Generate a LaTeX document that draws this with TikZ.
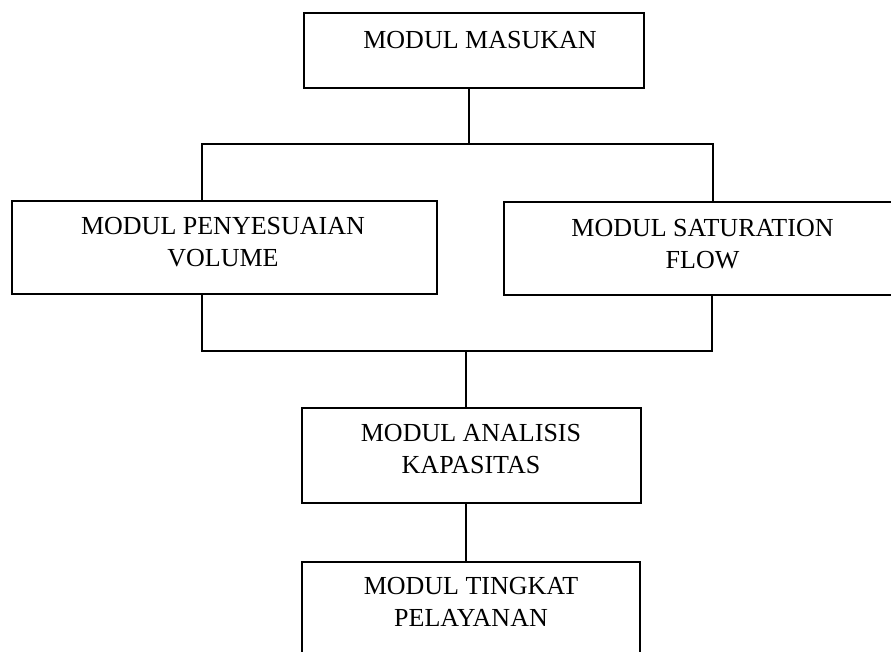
\documentclass[tikz,border=0pt]{standalone}
\usepackage{fontspec}
\setmainfont{Liberation Serif}
\begin{document}
\begin{tikzpicture}[x=1pt,y=-1pt,
  box/.style={draw=black, line width=1.5pt, rectangle, inner sep=0pt, outer sep=0pt},
  lbl/.style={align=center, inner sep=0pt, font=\fontsize{26}{32}\selectfont},
  conn/.style={draw=black, line width=1.5pt, line join=miter}]
\clip (0,0) rectangle (891,651);
% boxes
\node[box, minimum width=340pt, minimum height=75pt] (b1) at (474,50.5) {};
\node[box, minimum width=425pt, minimum height=93pt] (b2) at (224.5,247.5) {};
\node[box, minimum width=397pt, minimum height=93pt] (b3) at (702.5,248.5) {};
\node[box, minimum width=339pt, minimum height=95pt] (b4) at (471.5,455.5) {};
\node[box, minimum width=338pt, minimum height=95pt] (b5) at (471,609.5) {};
% labels
\node[lbl] (t1) at (480,40) {MODUL MASUKAN};
\node[lbl] (t2) at (223,242) {MODUL PENYESUAIAN\\VOLUME};
\node[lbl] (t3) at (702.5,244) {MODUL SATURATION\\FLOW};
\node[lbl] (t4) at (471,449) {MODUL ANALISIS\\KAPASITAS};
\node[lbl] (t5) at (471,601.5) {MODUL TINGKAT\\PELAYANAN};
% junctions
\coordinate (j1) at (469,144);
\coordinate (j1l) at (202,144);
\coordinate (j1r) at (713,144);
\coordinate (j2) at (466,351);
\coordinate (j2l) at (202,351);
\coordinate (j2r) at (712,351);
% connectors
\draw[conn] (b1.south -| j1) -- (j1);
\draw[conn] (b2.north -| j1l) -- (j1l) -- (j1r) -- (b3.north -| j1r);
\draw[conn] (b2.south -| j2l) -- (j2l) -- (j2r) -- (b3.south -| j2r);
\draw[conn] (j2) -- (b4.north -| j2);
\draw[conn] (b4.south -| j2) -- (b5.north -| j2);
\end{tikzpicture}
\end{document}
